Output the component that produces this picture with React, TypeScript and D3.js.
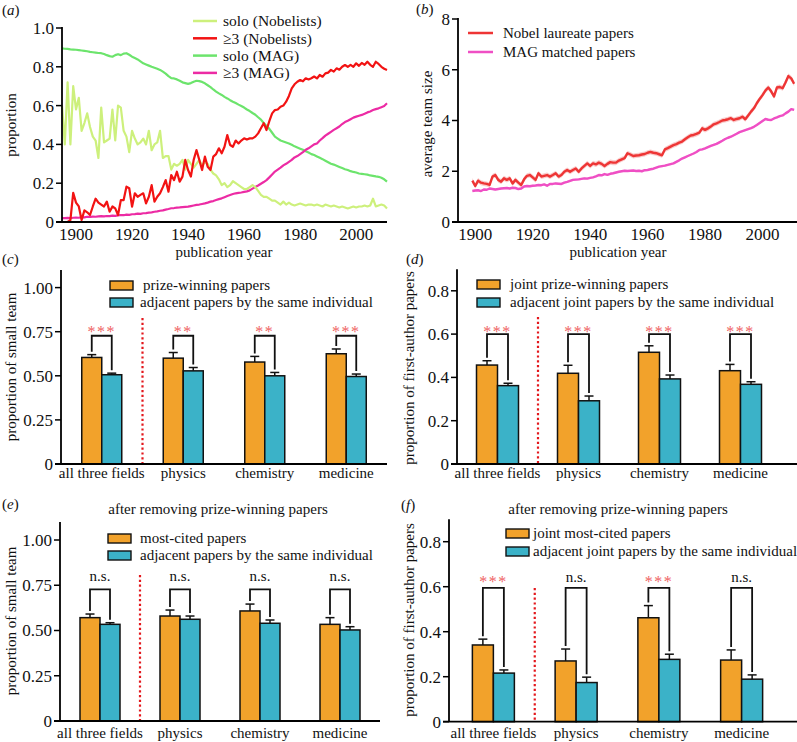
import React from 'react';
import * as d3 from 'd3';

const FONT = '"Liberation Serif", "Times New Roman", serif';

// ---------- panel (a) ----------
const yearsA = d3.range(1895, 2012);
const soloNobel = [
  0.60, 0.40, 0.72, 0.40, 0.70, 0.58, 0.64, 0.47, 0.51, 0.56,
  0.49, 0.44, 0.42, 0.33, 0.59, 0.41, 0.42, 0.43, 0.58, 0.42,
  0.60, 0.59, 0.47, 0.44, 0.36, 0.47, 0.43, 0.40, 0.41, 0.43,
  0.40, 0.47, 0.37, 0.40, 0.41, 0.47, 0.33, 0.34, 0.34, 0.27,
  0.30, 0.29, 0.30, 0.32, 0.27, 0.32, 0.30, 0.28, 0.30, 0.32,
  0.29, 0.31, 0.30, 0.27, 0.25, 0.24, 0.22, 0.19, 0.20, 0.18,
  0.19, 0.21, 0.20, 0.19, 0.18, 0.17, 0.17, 0.18, 0.19, 0.18,
  0.16, 0.14, 0.13, 0.13, 0.12, 0.11, 0.11, 0.10, 0.09, 0.105,
  0.09, 0.10, 0.09, 0.085, 0.09, 0.095, 0.09, 0.085, 0.09, 0.09,
  0.085, 0.09, 0.085, 0.08, 0.09, 0.085, 0.08, 0.085, 0.08, 0.075,
  0.08, 0.075, 0.07, 0.075, 0.08, 0.075, 0.08, 0.08, 0.085, 0.08,
  0.085, 0.12, 0.08, 0.085, 0.09, 0.085, 0.07,
];
const multiNobel = [
  0, 0, 0, 0.01, 0.15, 0.10, 0.08, 0.01, 0.06, 0.05,
  0.036, 0.08, 0.12, 0.10, 0.09, 0.08, 0.105, 0.053, 0.08, 0.07,
  0.036, 0.113, 0.113, 0.182, 0.174, 0.079, 0.148, 0.13, 0.14, 0.148,
  0.096, 0.13, 0.19, 0.105, 0.13, 0.148, 0.18, 0.216, 0.156, 0.242,
  0.216, 0.259, 0.208, 0.234, 0.32, 0.268, 0.234, 0.32, 0.371, 0.32,
  0.268, 0.337, 0.285, 0.268, 0.337, 0.35, 0.38, 0.354, 0.388, 0.448,
  0.397, 0.388, 0.42, 0.405, 0.42, 0.431, 0.425, 0.431, 0.431, 0.44,
  0.457, 0.483, 0.509, 0.474, 0.52, 0.56, 0.577, 0.58, 0.594, 0.60,
  0.62, 0.65, 0.689, 0.71, 0.723, 0.732, 0.725, 0.741, 0.735, 0.741,
  0.75, 0.74, 0.758, 0.749, 0.766, 0.77, 0.784, 0.775, 0.792, 0.785,
  0.80, 0.809, 0.80, 0.81, 0.80, 0.818, 0.805, 0.82, 0.81, 0.826,
  0.81, 0.80, 0.826, 0.815, 0.80, 0.79, 0.784,
];
const soloMAG = [
  0.895, 0.893, 0.892, 0.89, 0.889, 0.888, 0.886, 0.884, 0.882, 0.88,
  0.877, 0.875, 0.873, 0.871, 0.87, 0.866, 0.86, 0.855, 0.852, 0.86,
  0.865, 0.86, 0.868, 0.87, 0.862, 0.852, 0.845, 0.838, 0.828, 0.818,
  0.812, 0.806, 0.80, 0.795, 0.79, 0.784, 0.775, 0.765, 0.752, 0.742,
  0.74, 0.735, 0.728, 0.72, 0.716, 0.712, 0.716, 0.723, 0.728, 0.726,
  0.722, 0.715, 0.705, 0.695, 0.683, 0.672, 0.663, 0.655, 0.645, 0.637,
  0.628, 0.62, 0.613, 0.605, 0.598, 0.59, 0.58, 0.572, 0.562, 0.553,
  0.54, 0.528, 0.51, 0.495, 0.48, 0.46, 0.44, 0.43, 0.42, 0.415,
  0.41, 0.405, 0.398, 0.39, 0.384, 0.378, 0.372, 0.365, 0.358, 0.35,
  0.345, 0.338, 0.331, 0.324, 0.316, 0.308, 0.30, 0.296, 0.29, 0.284,
  0.278, 0.272, 0.268, 0.262, 0.258, 0.255, 0.25, 0.248, 0.246, 0.244,
  0.24, 0.238, 0.235, 0.233, 0.228, 0.22, 0.208,
];
const multiMAG = [
  0.02, 0.02, 0.021, 0.02, 0.022, 0.023, 0.022, 0.025, 0.024, 0.027,
  0.026, 0.028, 0.027, 0.029, 0.03, 0.029, 0.031, 0.03, 0.033, 0.032,
  0.034, 0.036, 0.035, 0.038, 0.037, 0.04, 0.041, 0.043, 0.042, 0.045,
  0.046, 0.048, 0.05, 0.053, 0.055, 0.058, 0.06, 0.064, 0.067, 0.071,
  0.072, 0.074, 0.075, 0.077, 0.078, 0.079, 0.082, 0.085, 0.088, 0.09,
  0.093, 0.096, 0.10, 0.105, 0.108, 0.113, 0.118, 0.122, 0.128, 0.134,
  0.139, 0.144, 0.148, 0.15, 0.152, 0.155, 0.158, 0.163, 0.172, 0.18,
  0.188, 0.197, 0.206, 0.216, 0.23, 0.245, 0.26, 0.27, 0.28, 0.292,
  0.30, 0.31, 0.32, 0.333, 0.34, 0.35, 0.36, 0.372, 0.38, 0.39,
  0.40, 0.405, 0.42, 0.432, 0.445, 0.455, 0.465, 0.475, 0.483, 0.492,
  0.505, 0.515, 0.522, 0.53, 0.538, 0.543, 0.548, 0.552, 0.558, 0.565,
  0.57, 0.577, 0.582, 0.586, 0.592, 0.598, 0.612,
];
const legendA = ['solo (Nobelists)', '\u22653 (Nobelists)', 'solo (MAG)', '\u22653 (MAG)'];
const yearTicks = [1900, 1920, 1940, 1960, 1980, 2000];
const ticksA = [0, 0.2, 0.4, 0.6, 0.8, 1.0];

// ---------- panel (b) ----------
const yearsB = d3.range(1899, 2012);
const teamNobel = [
  1.63, 1.42, 1.63, 1.55, 1.52, 1.50, 1.46, 1.79, 1.85, 1.66,
  1.59, 1.72, 1.66, 1.72, 1.52, 1.66, 1.55, 1.46, 1.68, 1.82,
  1.85, 1.76, 1.66, 1.92, 1.79, 1.82, 1.85, 1.79, 1.85, 1.92,
  1.79, 1.85, 1.98, 2.05, 1.98, 2.05, 2.11, 1.98, 2.11, 2.21,
  2.31, 2.21, 2.31, 2.27, 2.34, 2.29, 2.21, 2.29, 2.36, 2.34,
  2.34, 2.42, 2.47, 2.52, 2.71, 2.66, 2.60, 2.62, 2.63, 2.66,
  2.68, 2.73, 2.76, 2.73, 2.71, 2.67, 2.63, 2.86, 2.91, 2.97,
  3.03, 3.07, 3.13, 3.17, 3.26, 3.34, 3.41, 3.43, 3.47, 3.52,
  3.69, 3.63, 3.69, 3.76, 3.85, 3.89, 3.94, 4.00, 4.02, 4.05,
  4.09, 4.02, 4.06, 4.09, 4.15, 4.05, 4.20, 4.35, 4.48, 4.68,
  4.85, 5.00, 5.18, 5.30, 5.15, 4.95, 5.30, 5.32, 5.27, 5.50,
  5.75, 5.66, 5.45,
];
const teamMAG = [
  1.22, 1.24, 1.25, 1.22, 1.28, 1.27, 1.32, 1.30, 1.28, 1.30,
  1.32, 1.33, 1.34, 1.32, 1.35, 1.34, 1.30, 1.32, 1.40, 1.42,
  1.41, 1.43, 1.44, 1.46, 1.45, 1.48, 1.43, 1.50, 1.50, 1.52,
  1.51, 1.50, 1.55, 1.58, 1.62, 1.66, 1.67, 1.68, 1.70, 1.72,
  1.71, 1.74, 1.76, 1.80, 1.85, 1.84, 1.89, 1.86, 1.90, 1.92,
  1.95, 1.98, 2.00, 2.02, 2.01, 2.02, 2.03, 2.01, 2.02, 2.00,
  2.04, 2.05, 2.08, 2.10, 2.14, 2.18, 2.20, 2.22, 2.25, 2.28,
  2.31, 2.37, 2.43, 2.50, 2.55, 2.60, 2.65, 2.70, 2.76, 2.84,
  2.86, 2.90, 2.95, 3.00, 3.04, 3.08, 3.14, 3.20, 3.27, 3.32,
  3.36, 3.42, 3.48, 3.54, 3.58, 3.62, 3.66, 3.70, 3.75, 3.82,
  3.90, 3.98, 4.06, 4.03, 4.02, 4.08, 4.12, 4.17, 4.20, 4.28,
  4.35, 4.45, 4.42,
];
const legendB = ['Nobel laureate papers', 'MAG matched papers'];
const ticksB = [0, 2, 4, 6, 8];

// ---------- bar panels ----------
const categories = ['all three fields', 'physics', 'chemistry', 'medicine'];

const cPrize = [0.604, 0.600, 0.578, 0.625];
const cPrizeErr = [0.016, 0.032, 0.032, 0.027];
const cAdj = [0.506, 0.528, 0.500, 0.496];
const cAdjErr = [0.009, 0.019, 0.019, 0.014];
const cSig = ['***', '**', '**', '***'];

const dPrize = [0.457, 0.419, 0.516, 0.431];
const dPrizeErr = [0.020, 0.037, 0.030, 0.029];
const dAdj = [0.362, 0.292, 0.393, 0.368];
const dAdjErr = [0.011, 0.022, 0.018, 0.012];
const dSig = ['***', '***', '***', '***'];

const eCited = [0.571, 0.580, 0.608, 0.534];
const eCitedErr = [0.020, 0.033, 0.038, 0.037];
const eAdj = [0.534, 0.562, 0.540, 0.503];
const eAdjErr = [0.009, 0.018, 0.018, 0.018];
const eSig = ['n.s.', 'n.s.', 'n.s.', 'n.s.'];

const fCited = [0.341, 0.270, 0.462, 0.274];
const fCitedErr = [0.026, 0.053, 0.054, 0.045];
const fAdj = [0.216, 0.174, 0.277, 0.189];
const fAdjErr = [0.014, 0.024, 0.023, 0.019];
const fSig = ['***', 'n.s.', '***', 'n.s.'];

const ticksSmall = [0, 0.25, 0.5, 0.75, 1.0];
const ticksFirst = [0, 0.2, 0.4, 0.6, 0.8];

const ORANGE = '#f2a22b';
const BLUE = '#3bb2c8';
const STAR = '#ef6464';
const TICK_FS = 17;

function PanelLabel({ x, y, l }: { x: number; y: number; l: string }) {
  return (
    <text x={x} y={y} fontSize={15}>
      (<tspan fontStyle="italic">{l}</tspan>)
    </text>
  );
}

function YTitle({ x, y, t }: { x: number; y: number; t: string }) {
  return (
    <text transform={`translate(${x},${y}) rotate(-90)`} textAnchor="middle" dy="0.35em" fontSize={15}>
      {t}
    </text>
  );
}

function PanelA() {
  const x = d3.scaleLinear().domain([1895, 2011]).range([62, 387]);
  const y = d3.scaleLinear().domain([0, 1]).range([222, 28]);
  const line = d3.line<number>().x((_, i) => x(yearsA[i])).y((d) => y(d));
  const series = [
    { v: soloMAG, c: '#6ce46c' },
    { v: multiMAG, c: '#ec2ba4' },
    { v: soloNobel, c: '#cdf07c' },
    { v: multiNobel, c: '#f21313' },
  ];
  const legendColors = ['#cdf07c', '#f21313', '#6ce46c', '#ec2ba4'];
  return (
    <g>
      <PanelLabel x={2} y={15} l="a" />
      {series.map((s, i) => (
        <path key={i} d={line(s.v) || ''} fill="none" stroke={s.c} strokeWidth={2.2} strokeLinejoin="round" />
      ))}
      <line x1={62} x2={62} y1={27} y2={222} stroke="#000" strokeWidth={1.8} />
      <line x1={56} x2={387} y1={222} y2={222} stroke="#000" strokeWidth={1.8} />
      {ticksA.map((t) => (
        <g key={t}>
          <line x1={56} x2={62} y1={y(t)} y2={y(t)} stroke="#000" strokeWidth={1.5} />
          <text x={54} y={y(t)} dy="0.35em" textAnchor="end" fontSize={TICK_FS}>
            {t === 0 ? '0' : t.toFixed(1)}
          </text>
        </g>
      ))}
      {yearTicks.map((t) => (
        <text key={t} x={x(t)} y={240} textAnchor="middle" fontSize={TICK_FS}>
          {t}
        </text>
      ))}
      <text x={224} y={257} textAnchor="middle" fontSize={15}>publication year</text>
      <YTitle x={10.5} y={125} t="proportion" />
      {legendA.map((l, i) => (
        <g key={l}>
          <line x1={193} x2={217} y1={21 + i * 17.3} y2={21 + i * 17.3} stroke={legendColors[i]} strokeWidth={2.5} />
          <text x={223} y={21 + i * 17.3} dy="0.35em" fontSize={15.5}>{l}</text>
        </g>
      ))}
    </g>
  );
}

function PanelB() {
  const x = d3.scaleLinear().domain([1894, 2012]).range([458, 797]);
  const y = d3.scaleLinear().domain([0, 8]).range([222, 19]);
  const line = d3.line<number>().x((_, i) => x(yearsB[i])).y((d) => y(d));
  const bandN = d3.area<number>().x((_, i) => x(yearsB[i])).y0((d) => y(d - 0.1)).y1((d) => y(d + 0.1));
  const bandM = d3.area<number>().x((_, i) => x(yearsB[i])).y0((d) => y(d - 0.04)).y1((d) => y(d + 0.04));
  const colors = ['#ee3535', '#ef4fc4'];
  return (
    <g>
      <PanelLabel x={416} y={14} l="b" />
      <path d={bandN(teamNobel) || ''} fill="#f4a3a3" opacity={0.55} />
      <path d={bandM(teamMAG) || ''} fill="#f5a6e0" opacity={0.5} />
      <path d={line(teamMAG) || ''} fill="none" stroke={colors[1]} strokeWidth={2.4} strokeLinejoin="round" />
      <path d={line(teamNobel) || ''} fill="none" stroke={colors[0]} strokeWidth={2.4} strokeLinejoin="round" />
      <line x1={458} x2={458} y1={18} y2={222} stroke="#000" strokeWidth={1.8} />
      <line x1={452} x2={797} y1={222} y2={222} stroke="#000" strokeWidth={1.8} />
      {ticksB.map((t) => (
        <g key={t}>
          <line x1={452} x2={458} y1={y(t)} y2={y(t)} stroke="#000" strokeWidth={1.5} />
          <text x={450} y={y(t)} dy="0.35em" textAnchor="end" fontSize={TICK_FS}>{t}</text>
        </g>
      ))}
      {yearTicks.map((t) => (
        <text key={t} x={x(t)} y={240} textAnchor="middle" fontSize={TICK_FS}>{t}</text>
      ))}
      <text x={618} y={257} textAnchor="middle" fontSize={15}>publication year</text>
      <YTitle x={427} y={124} t="average team size" />
      {legendB.map((l, i) => (
        <g key={l}>
          <line x1={468} x2={493} y1={33 + i * 19} y2={33 + i * 19} stroke={colors[i]} strokeWidth={2.5} />
          <text x={503} y={33 + i * 19} dy="0.35em" fontSize={15}>{l}</text>
        </g>
      ))}
    </g>
  );
}

interface BarCfg {
  label: string; labelX: number; labelY: number;
  axisX: number; yBottom: number; yMax: number; pxPerUnit: number;
  ticks: number[]; fmt: (v: number) => string;
  band: [number, number]; barW: number; axisEnd: number;
  a: number[]; aErr: number[]; b: number[]; bErr: number[]; sig: string[];
  bracketV: number; starY: number; nsY: number; dotTop: number; catY: number;
  legend: string[]; legX: number; legY: number[]; legTextX: number[];
  title?: string; titleX?: number; titleY?: number;
  yTitle: string; yTitleX: number; yTitleY: number;
}

function BarPanel({ cfg }: { cfg: BarCfg }) {
  const y = d3.scaleLinear().domain([0, cfg.yMax]).range([cfg.yBottom, cfg.yBottom - cfg.yMax * cfg.pxPerUnit]);
  const x = d3.scaleBand<string>().domain(categories).range(cfg.band);
  const bw = cfg.barW;
  const gap = 3;
  const dotX = x(categories[1])!;
  return (
    <g>
      <PanelLabel x={cfg.labelX} y={cfg.labelY} l={cfg.label} />
      {cfg.title && (
        <text x={cfg.titleX} y={cfg.titleY} textAnchor="middle" fontSize={15}>{cfg.title}</text>
      )}
      <line x1={dotX} x2={dotX} y1={cfg.dotTop} y2={cfg.yBottom} stroke="#e3171c" strokeWidth={2.2} strokeDasharray="2.2 2.6" />
      {categories.map((c, i) => {
        const cx = x(c)! + x.bandwidth() / 2;
        const ox = cx - bw / 2;
        const bx = cx + bw / 2;
        const aTop = y(cfg.a[i] + cfg.aErr[i]);
        const bTop = y(cfg.b[i] + cfg.bErr[i]);
        const yb = y(cfg.bracketV);
        const isStar = cfg.sig[i].startsWith('*');
        return (
          <g key={c}>
            <rect x={cx - bw} y={y(cfg.a[i])} width={bw} height={cfg.yBottom - y(cfg.a[i])} fill={ORANGE} stroke="#111" strokeWidth={1.5} />
            <rect x={cx} y={y(cfg.b[i])} width={bw} height={cfg.yBottom - y(cfg.b[i])} fill={BLUE} stroke="#111" strokeWidth={1.5} />
            <line x1={ox} x2={ox} y1={y(cfg.a[i])} y2={aTop} stroke="#111" strokeWidth={1.5} />
            <line x1={ox - 4.5} x2={ox + 4.5} y1={aTop} y2={aTop} stroke="#111" strokeWidth={1.5} />
            <line x1={bx} x2={bx} y1={y(cfg.b[i])} y2={bTop} stroke="#111" strokeWidth={1.5} />
            <line x1={bx - 4.5} x2={bx + 4.5} y1={bTop} y2={bTop} stroke="#111" strokeWidth={1.5} />
            <path d={`M${ox},${aTop - gap}V${yb}H${bx}V${bTop - gap}`} fill="none" stroke="#111" strokeWidth={1.8} />
            <text x={cx} y={isStar ? cfg.starY : cfg.nsY} textAnchor="middle" fontSize={isStar ? 16 : 15}
              fill={isStar ? STAR : '#111'} letterSpacing={isStar ? 1.5 : 0}>
              {cfg.sig[i]}
            </text>
            <text x={cx} y={cfg.catY} textAnchor="middle" fontSize={15}>{c}</text>
          </g>
        );
      })}
      <line x1={cfg.axisX} x2={cfg.axisX} y1={y(cfg.yMax)} y2={cfg.yBottom} stroke="#000" strokeWidth={1.8} />
      <line x1={cfg.axisX - 6} x2={cfg.axisEnd} y1={cfg.yBottom} y2={cfg.yBottom} stroke="#000" strokeWidth={1.8} />
      {cfg.ticks.map((t) => (
        <g key={t}>
          <line x1={cfg.axisX - 6} x2={cfg.axisX} y1={y(t)} y2={y(t)} stroke="#000" strokeWidth={1.5} />
          <text x={cfg.axisX - 8} y={y(t)} dy="0.35em" textAnchor="end" fontSize={TICK_FS}>{cfg.fmt(t)}</text>
        </g>
      ))}
      {cfg.legend.map((l, i) => (
        <g key={l}>
          <rect x={cfg.legX} y={cfg.legY[i]} width={23} height={9} fill={i === 0 ? ORANGE : BLUE} stroke="#111" strokeWidth={1.4} />
          <text x={cfg.legTextX[i]} y={cfg.legY[i] + 9} fontSize={15}>{l}</text>
        </g>
      ))}
      <YTitle x={cfg.yTitleX} y={cfg.yTitleY} t={cfg.yTitle} />
    </g>
  );
}

const fmt2 = (v: number) => (v === 0 ? '0' : d3.format('.2f')(v));
const fmt1 = (v: number) => (v === 0 ? '0' : d3.format('.1f')(v));

export default function App() {
  const cCfg: BarCfg = {
    label: 'c', labelX: 2, labelY: 264,
    axisX: 61, yBottom: 464, yMax: 1.1, pxPerUnit: 176.4, ticks: ticksSmall, fmt: fmt2,
    band: [61, 387], barW: 20, axisEnd: 387,
    a: cPrize, aErr: cPrizeErr, b: cAdj, bErr: cAdjErr, sig: cSig,
    bracketV: 0.727, starY: 337, nsY: 332, dotTop: 318, catY: 478,
    legend: ['prize-winning papers', 'adjacent papers by the same individual'], legX: 110, legY: [281, 298], legTextX: [143, 140],
    yTitle: 'proportion of small team', yTitleX: 11, yTitleY: 367,
  };
  const dCfg: BarCfg = {
    label: 'd', labelX: 406, labelY: 264,
    axisX: 457, yBottom: 464, yMax: 0.9, pxPerUnit: 216.5, ticks: ticksFirst, fmt: fmt1,
    band: [457, 781], barW: 21, axisEnd: 797,
    a: dPrize, aErr: dPrizeErr, b: dAdj, bErr: dAdjErr, sig: dSig,
    bracketV: 0.6, starY: 337, nsY: 332, dotTop: 317, catY: 478,
    legend: ['joint prize-winning papers', 'adjacent joint papers by the same individual'], legX: 477, legY: [280, 298], legTextX: [510, 510],
    yTitle: 'proportion of first-author papers', yTitleX: 409, yTitleY: 368,
  };
  const eCfg: BarCfg = {
    label: 'e', labelX: 2, labelY: 509,
    axisX: 60, yBottom: 721, yMax: 1.1, pxPerUnit: 181, ticks: ticksSmall, fmt: fmt2,
    band: [60, 380], barW: 20, axisEnd: 380,
    a: eCited, aErr: eCitedErr, b: eAdj, bErr: eAdjErr, sig: eSig,
    bracketV: 0.727, starY: 587, nsY: 581, dotTop: 575, catY: 738,
    legend: ['most-cited papers', 'adjacent papers by the same individual'], legX: 108, legY: [534, 551], legTextX: [140, 140],
    title: 'after removing prize-winning papers', titleX: 218, titleY: 514,
    yTitle: 'proportion of small team', yTitleX: 11, yTitleY: 621,
  };
  const fCfg: BarCfg = {
    label: 'f', labelX: 401, labelY: 510,
    axisX: 449, yBottom: 721.7, yMax: 0.9, pxPerUnit: 225, ticks: ticksFirst, fmt: fmt1,
    band: [452, 783], barW: 21, axisEnd: 797,
    a: fCited, aErr: fCitedErr, b: fAdj, bErr: fAdjErr, sig: fSig,
    bracketV: 0.595, starY: 587, nsY: 582, dotTop: 588, catY: 738,
    legend: ['joint most-cited papers', 'adjacent joint papers by the same individual'], legX: 506, legY: [529, 547], legTextX: [533, 533],
    title: 'after removing prize-winning papers', titleX: 618, titleY: 514,
    yTitle: 'proportion of first-author papers', yTitleX: 409, yTitleY: 620,
  };
  return (
    <svg width={797} height={742} style={{ position: 'absolute', left: 0, top: 0, background: '#fff' }}
      fontFamily={FONT} fill="#111">
      <rect width={797} height={742} fill="#fff" />
      <PanelA />
      <PanelB />
      <BarPanel cfg={cCfg} />
      <BarPanel cfg={dCfg} />
      <BarPanel cfg={eCfg} />
      <BarPanel cfg={fCfg} />
    </svg>
  );
}
